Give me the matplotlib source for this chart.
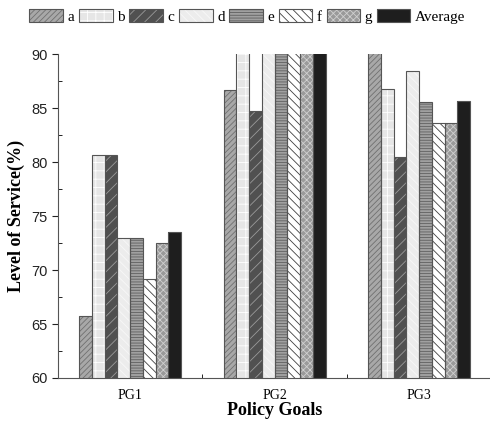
import numpy as np
import matplotlib.pyplot as plt
from matplotlib.ticker import MultipleLocator

# data (PG2 bars above 90 are cut off in the original)
goals = ['PG1', 'PG2', 'PG3']
series = ['a', 'b', 'c', 'd', 'e', 'f', 'g', 'Average']
a = [65.7, 86.7, 91.6]
b = [80.7, 95.0, 86.8]
c = [80.7, 84.7, 80.5]
d = [73.0, 96.0, 88.4]
e = [73.0, 95.0, 85.6]
f = [69.2, 94.0, 83.6]
g = [72.5, 95.0, 83.6]
avg = [73.5, 92.3, 85.7]
values = [a, b, c, d, e, f, g, avg]

faces = ['#a8a8a8', '#e6e6e6', '#505050', '#ececec', '#a0a0a0', '#ffffff', '#9a9a9a', '#1e1e1e']
hatchcol = ['#707070', '#ffffff', '#9a9a9a', '#f8f8f8', '#606060', '#404040', '#d0d0d0', '#1e1e1e']
hatches = ['//////', '++', '///', '\\\\\\\\', '------', '\\\\\\\\', 'xxxxx', '']

plt.rcParams['hatch.linewidth'] = 0.6
serif = ['Liberation Serif', 'DejaVu Serif']

fig = plt.figure(figsize=(4.9, 4.3), dpi=100)
ax = fig.add_axes([0.118, 0.121, 0.885, 0.753])

x = np.arange(len(goals))
w = 0.088
handles = []
for i, (name, vals) in enumerate(zip(series, values)):
    off = (i - 3.5) * w
    fill = ax.bar(x + off, vals, w, color=faces[i], hatch=hatches[i],
                  edgecolor=hatchcol[i], linewidth=0, zorder=2)
    edge = ax.bar(x + off, vals, w, color='none', edgecolor='#555555', linewidth=0.8, zorder=3)
    handles.append((fill, edge))

ax.set_ylim(60, 90)
ax.set_xlim(-0.5, 2.5)
ax.set_xticks(x)
ax.set_xticklabels(goals, fontfamily=serif, fontsize=10)
ax.set_xticks([0.5, 1.5], minor=True)
ax.yaxis.set_major_locator(MultipleLocator(5))
ax.yaxis.set_minor_locator(MultipleLocator(2.5))
ax.tick_params(axis='y', which='major', direction='out', length=4, labelsize=10.5, colors='#222222')
ax.tick_params(axis='y', which='minor', direction='in', length=3)
ax.tick_params(axis='x', which='major', direction='in', length=5, pad=8)
ax.tick_params(axis='x', which='minor', direction='in', length=3)
for lab in ax.get_yticklabels():
    lab.set_fontfamily(['Liberation Sans', 'DejaVu Sans'])
ax.spines['top'].set_visible(False)
ax.spines['right'].set_visible(False)
ax.spines['left'].set_color('#555555')
ax.spines['bottom'].set_color('#555555')

ax.set_ylabel('Level of Service(%)', fontfamily=serif, fontweight='bold', fontsize=13)
ax.set_xlabel('Policy Goals', fontfamily=serif, fontweight='bold', fontsize=13, labelpad=0)

fig.legend(handles, series, loc='upper center', bbox_to_anchor=(0.505, 1.01), ncol=8,
           frameon=False, prop={'family': serif, 'size': 11}, handlelength=2.2,
           handletextpad=0.3, columnspacing=0.3, handleheight=0.9)

fig.savefig('out.png', dpi=100)
